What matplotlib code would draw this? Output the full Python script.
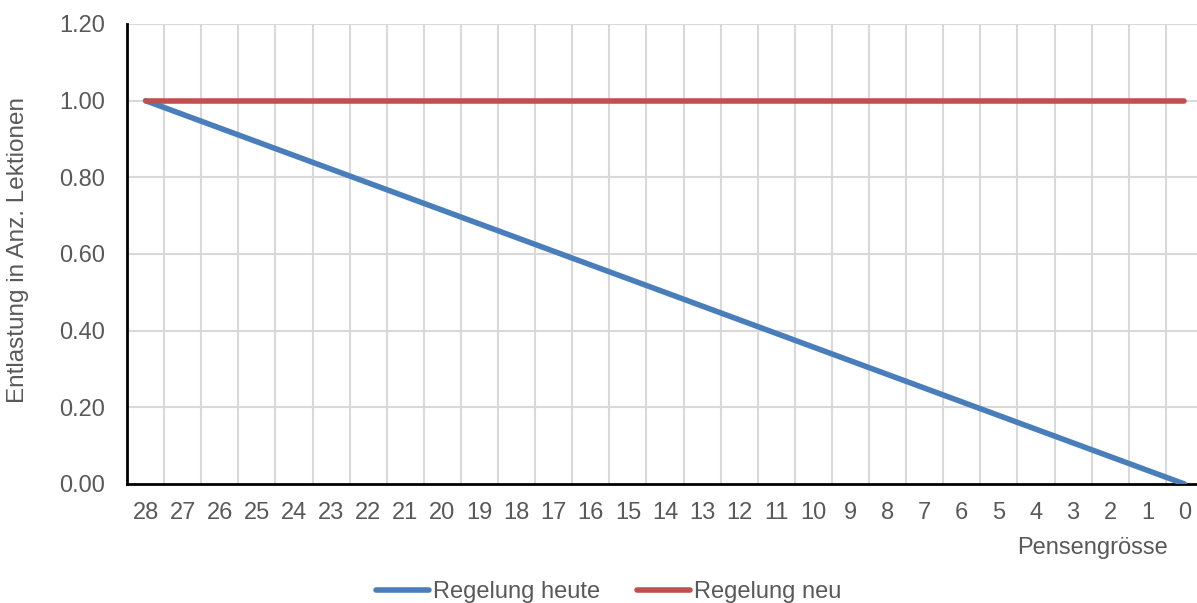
import numpy as np
import matplotlib.pyplot as plt

plt.rcParams['font.family'] = ['Liberation Sans', 'DejaVu Sans']

pensum = list(range(28, -1, -1))
heute = [p / 28 for p in pensum]
neu = [1.0] * len(pensum)
yticks = [0.0, 0.2, 0.4, 0.6, 0.8, 1.0, 1.2]

fig = plt.figure(figsize=(11.97, 6.03), dpi=100)
ax = fig.add_axes([127 / 1197, 119 / 603, 1076 / 1197, 460 / 603])

x = np.arange(len(pensum))
ax.plot(x, heute, color="#4a7ebb", lw=4, solid_capstyle="round", label="Regelung heute", zorder=3)
ax.plot(x, neu, color="#c0504d", lw=4, solid_capstyle="round", label="Regelung neu", zorder=3)

ax.set_xlim(-0.5, len(pensum) - 0.5)
ax.set_ylim(0, 1.2)
ax.set_yticks(yticks)
ax.set_yticklabels([f"{v:.2f}" for v in yticks])
ax.set_xticks(x)
ax.set_xticklabels([str(p) for p in pensum])

ax.grid(False)
for v in yticks[1:]:
    ax.axhline(v, color="#d9d9d9", lw=1.5, zorder=1)
for v in x[:-1] + 0.5:
    ax.axvline(v, color="#d9d9d9", lw=1.5, zorder=1)

for s in ["top", "right"]:
    ax.spines[s].set_visible(False)
ax.spines["left"].set_linewidth(2)
ax.spines["bottom"].set_linewidth(2)
ax.tick_params(axis="both", which="both", length=0, labelsize=17, colors="#595959")
ax.tick_params(axis="x", pad=13)
ax.tick_params(axis="y", pad=16)

fig.text(18 / 1197, 1 - 250 / 603, "Entlastung in Anz. Lektionen", fontsize=17.5, color="#595959",
         rotation=90, ha="center", va="center")
fig.text(1168 / 1197, 1 - 548 / 603, "Pensengrösse", fontsize=17, color="#595959", ha="right", va="center")

fig.legend(loc="center", bbox_to_anchor=(609 / 1197, 1 - 592 / 603), ncol=2, frameon=False,
           fontsize=17, handlelength=2.25, handletextpad=0.17, columnspacing=1.55,
           labelcolor="#595959")

fig.savefig("out.png", dpi=100)
